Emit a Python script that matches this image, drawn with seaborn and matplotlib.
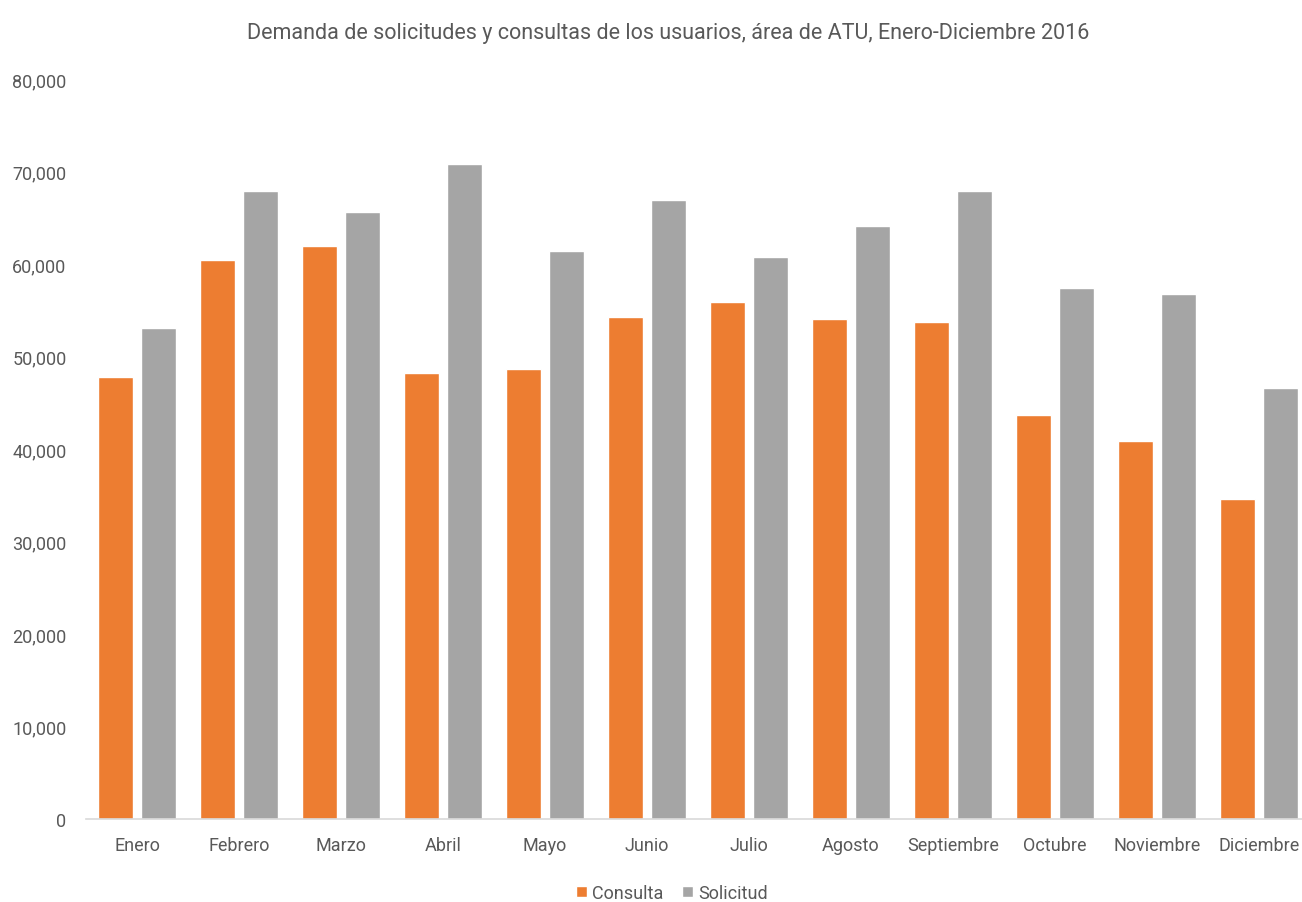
import matplotlib
matplotlib.use("Agg")
import matplotlib.pyplot as plt
import seaborn as sns
import pandas as pd
from matplotlib.ticker import FuncFormatter

months = ["Enero", "Febrero", "Marzo", "Abril", "Mayo", "Junio", "Julio",
          "Agosto", "Septiembre", "Octubre", "Noviembre", "Diciembre"]
consulta = [47800, 60400, 61900, 48200, 48600, 54300, 55900, 54100, 53700, 43700, 40900, 34600]
solicitud = [53100, 67900, 65600, 70800, 61400, 66900, 60800, 64100, 67900, 57400, 56800, 46600]
series = ["Consulta", "Solicitud"]
colors = ["#ED7D31", "#A5A5A5"]

df = pd.DataFrame({
    "Mes": months * 2,
    "Serie": [series[0]] * 12 + [series[1]] * 12,
    "Valor": consulta + solicitud,
})

sns.set_theme(style="white")
plt.rcParams["font.family"] = ["Roboto", "DejaVu Sans"]
text_color = "#595959"

fig = plt.figure(figsize=(13.02, 9.03), dpi=100)
ax = fig.add_axes([86 / 1302, 83 / 903, 1224 / 1302, 740 / 903])

sns.barplot(data=df, x="Mes", y="Valor", hue="Serie", order=months,
            hue_order=series, palette=colors, width=0.84, gap=0.2,
            saturation=1, ax=ax, legend=True)

ax.set_ylim(0, 80000)
ax.set_xlim(-0.5, 11.5)
ax.set_yticks(range(0, 80001, 10000))
ax.yaxis.set_major_formatter(FuncFormatter(lambda v, p: f"{int(v):,}"))
ax.set_xlabel("")
ax.set_ylabel("")
for s in ["top", "right", "left"]:
    ax.spines[s].set_visible(False)
ax.spines["bottom"].set_color("#D9D9D9")
ax.spines["bottom"].set_linewidth(1.2)
ax.tick_params(axis="both", length=0, colors=text_color, labelsize=13)
ax.tick_params(axis="x", pad=12)
ax.tick_params(axis="y", pad=14)
for lbl in ax.get_yticklabels():
    lbl.set_horizontalalignment("right")

fig.text(668 / 1302, 1 - 34 / 903, "Demanda de solicitudes y consultas de los usuarios, área de ATU, Enero-Diciembre 2016",
         ha="center", va="center", fontsize=15.5, color=text_color)

handles, labels = ax.get_legend_handles_labels()
ax.legend_.remove()
fig.legend(handles, labels, loc="center", bbox_to_anchor=(672 / 1302, 1 - 894 / 903),
           ncol=2, frameon=False, fontsize=13, labelcolor=text_color,
           handlelength=0.6, handleheight=0.6, handletextpad=0.3, columnspacing=1.0)

fig.savefig("out.png", dpi=100)
